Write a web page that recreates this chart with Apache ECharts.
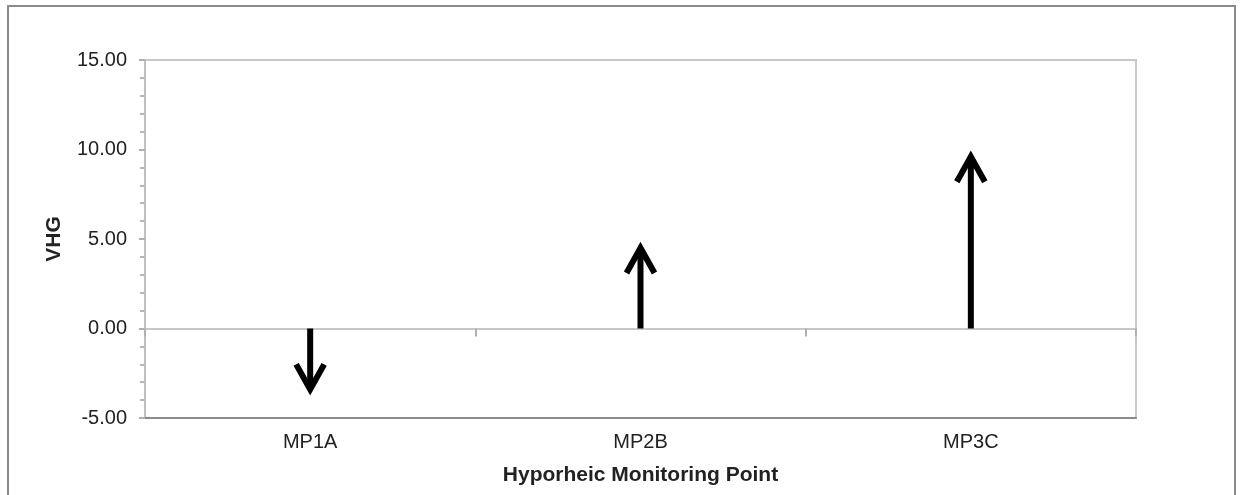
<!doctype html>
<html>
<head>
<meta charset="utf-8">
<title>VHG</title>
<script src="https://cdn.jsdelivr.net/npm/echarts@6/dist/echarts.min.js"></script>
<style>
  body { margin: 0; background: #fff; }
  #container { width: 1240px; height: 495px; }
</style>
</head>
<body>
<div id="container"></div>
<script>
// monitoring points and their vertical hydraulic gradient
var points = ['MP1A', 'MP2B', 'MP3C'];
var vhg = [-3.4, 4.5, 9.6];

var font = '"Liberation Sans", Arial, sans-serif';

// arrow from 0 to the value
function renderArrow(params, api) {
  var idx = api.value(0);
  var val = api.value(1);
  var p0 = api.coord([idx, 0]);
  var p1 = api.coord([idx, val]);
  var dir = val >= 0 ? 1 : -1; // pixel direction back towards zero
  var style = { stroke: '#000', lineWidth: 6, fill: null, lineJoin: 'miter', lineCap: 'butt' };
  return {
    type: 'group',
    children: [{
      type: 'line',
      shape: { x1: p0[0], y1: p0[1], x2: p1[0], y2: p1[1] + dir * 3 },
      style: style
    }, {
      type: 'polyline',
      shape: { points: [[p1[0] - 14, p1[1] + dir * 25], [p1[0], p1[1]], [p1[0] + 14, p1[1] + dir * 25]] },
      style: style
    }]
  };
}

var option = {
  animation: false,
  backgroundColor: '#fff',
  graphic: [{
    type: 'rect',
    shape: { x: 8, y: 6, width: 1227, height: 600 },
    style: { fill: null, stroke: '#8a8a8a', lineWidth: 2 },
    silent: true
  }],
  grid: {
    left: 145, top: 60, right: 104, bottom: 77,
    show: true, borderColor: '#c8c8c8', borderWidth: 2
  },
  xAxis: [{
    type: 'category',
    data: points,
    position: 'bottom',
    axisLine: { onZero: false, lineStyle: { color: '#8a8a8a', width: 2 } },
    axisTick: { show: false },
    axisLabel: { fontSize: 20, color: '#222', margin: 14, fontFamily: font },
    name: 'Hyporheic Monitoring Point',
    nameLocation: 'middle',
    nameGap: 47,
    nameTextStyle: { fontSize: 21, fontWeight: 'bold', color: '#222', fontFamily: font }
  }, {
    type: 'category',
    data: points,
    position: 'bottom',
    axisLine: { onZero: true, lineStyle: { color: '#c8c8c8', width: 2 } },
    axisTick: { show: true, length: 8, lineStyle: { color: '#b0b0b0', width: 2 } },
    axisLabel: { show: false }
  }],
  yAxis: {
    type: 'value',
    min: -5,
    max: 15,
    interval: 5,
    axisLine: { show: true, lineStyle: { color: '#c0c0c0', width: 2 } },
    axisTick: { show: true, length: 6, lineStyle: { color: '#b0b0b0', width: 2 } },
    minorTick: { show: true, splitNumber: 5, length: 5, lineStyle: { color: '#b8b8b8', width: 2 } },
    splitLine: { show: false },
    axisLabel: {
      fontSize: 20, color: '#222', margin: 18, fontFamily: font,
      formatter: function (v) { return v.toFixed(2); }
    },
    name: 'VHG',
    nameLocation: 'middle',
    nameRotate: 90,
    nameGap: 80,
    nameTextStyle: { fontSize: 21, fontWeight: 'bold', color: '#222', fontFamily: font }
  },
  series: [{
    type: 'custom',
    xAxisIndex: 0,
    renderItem: renderArrow,
    data: points.map(function (p, i) { return [i, vhg[i]]; }),
    clip: false
  }]
};

var myChart = echarts.init(document.getElementById('container'));
myChart.setOption(option);
</script>
</body>
</html>
